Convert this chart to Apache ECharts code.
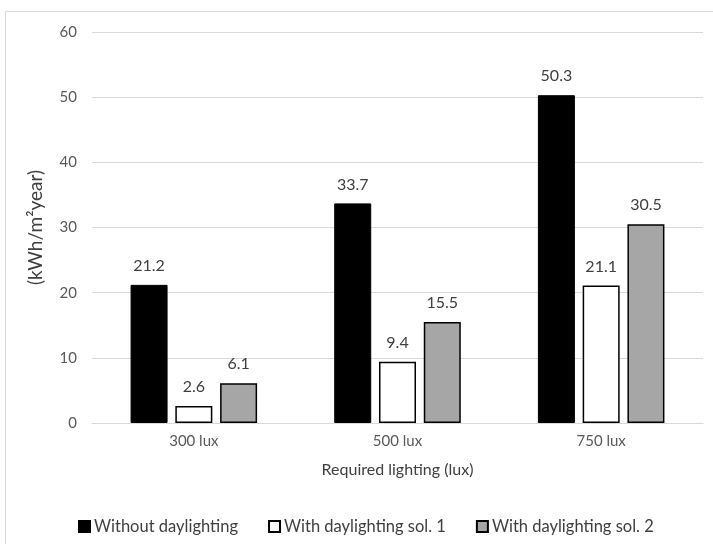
<!DOCTYPE html>
<html>
<head>
<meta charset="utf-8">
<script src="https://cdn.jsdelivr.net/npm/echarts@6/dist/echarts.min.js"></script>
<style>
  html, body { margin: 0; padding: 0; background: #ffffff; }
  #chart { width: 713px; height: 544px; }
</style>
</head>
<body>
<div id="chart"></div>
<script>
// Required lighting levels on the x axis
const categories = ['300 lux', '500 lux', '750 lux'];
// Annual lighting energy use (kWh/m²year)
const withoutDaylighting = [21.2, 33.7, 50.3];
const withSol1 = [2.6, 9.4, 21.1];
const withSol2 = [6.1, 15.5, 30.5];
const yTicks = { min: 0, max: 60, interval: 10 };

const seriesNames = ['Without daylighting', 'With daylighting sol. 1', 'With daylighting sol. 2'];
const fontFamily = 'Lato, "Open Sans", sans-serif';

const chart = echarts.init(document.getElementById('chart'), null, { renderer: 'canvas' });

const labelStyle = {
  show: true,
  position: 'top',
  distance: 11,
  color: '#404040',
  fontSize: 16,
  fontFamily: fontFamily,
  formatter: p => p.value.toFixed(1)
};

chart.setOption({
  animation: false,
  backgroundColor: '#ffffff',
  graphic: [{
    type: 'rect',
    shape: { x: 5.5, y: 11.5, width: 760, height: 600 },
    style: { fill: 'none', stroke: '#d9d9d9', lineWidth: 1 },
    silent: true
  }],
  grid: { left: 92, right: 10, top: 32, bottom: 121 },
  legend: {
    left: 73,
    top: 513,
    itemWidth: 11,
    itemHeight: 11,
    itemGap: 30,
    icon: 'rect',
    textStyle: { color: '#404040', fontSize: 16.5, fontFamily: fontFamily, padding: [0, 0, 0, -1] },
    data: seriesNames
  },
  xAxis: {
    type: 'category',
    data: categories,
    name: 'Required lighting (lux)',
    nameLocation: 'middle',
    nameGap: 39,
    nameTextStyle: { color: '#404040', fontSize: 16, fontFamily: fontFamily },
    axisLine: { lineStyle: { color: '#d9d9d9', width: 1 } },
    axisTick: { show: false },
    axisLabel: { color: '#595959', fontSize: 15, fontFamily: fontFamily, margin: 11 }
  },
  yAxis: {
    type: 'value',
    min: yTicks.min,
    max: yTicks.max,
    interval: yTicks.interval,
    name: '(kWh/m²year)',
    nameLocation: 'middle',
    nameRotate: 90,
    nameGap: 47,
    nameTextStyle: { color: '#404040', fontSize: 19, fontFamily: fontFamily },
    axisLine: { show: false },
    axisTick: { show: false },
    axisLabel: { color: '#595959', fontSize: 15, fontFamily: fontFamily, margin: 15 },
    splitLine: { lineStyle: { color: '#d9d9d9', width: 1 } }
  },
  series: [
    {
      name: seriesNames[0],
      type: 'bar',
      data: withoutDaylighting,
      barWidth: 37,
      barGap: '21%',
      itemStyle: { color: '#000000', borderColor: '#000000', borderWidth: 1 },
      label: labelStyle
    },
    {
      name: seriesNames[1],
      type: 'bar',
      data: withSol1,
      barWidth: 37,
      barGap: '21%',
      itemStyle: { color: '#ffffff', borderColor: '#000000', borderWidth: 1.5 },
      label: labelStyle
    },
    {
      name: seriesNames[2],
      type: 'bar',
      data: withSol2,
      barWidth: 37,
      barGap: '21%',
      itemStyle: { color: '#a6a6a6', borderColor: '#000000', borderWidth: 1.5 },
      label: labelStyle
    }
  ]
});
</script>
</body>
</html>
